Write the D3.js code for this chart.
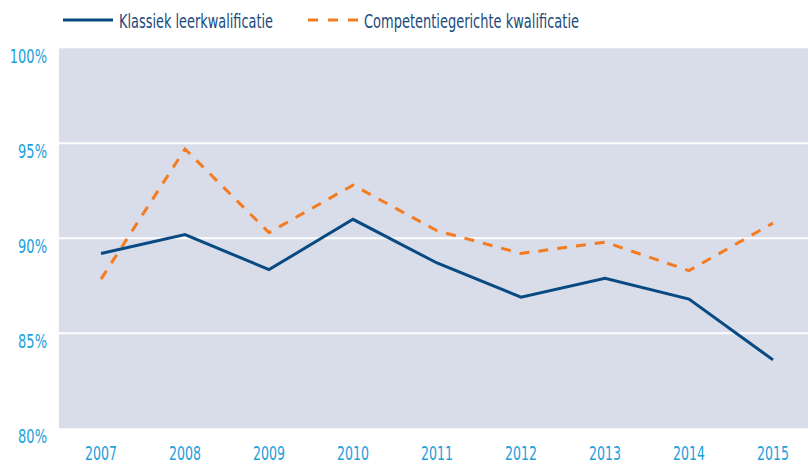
<!DOCTYPE html>
<head>
    <meta charset="utf-8">
    <script src="https://cdn.jsdelivr.net/npm/d3@7"></script>
    <style>
        body { margin: 0; background: white; }
        text { font-family: "DejaVu Sans", sans-serif; }
    </style>
</head>

<body>
<script>

    var years = ["2007", "2008", "2009", "2010", "2011", "2012", "2013", "2014", "2015"];
    var klassiek = [89.2, 90.2, 88.35, 91.0, 88.7, 86.9, 87.9, 86.8, 83.6];
    var competentie = [87.85, 94.7, 90.3, 92.8, 90.4, 89.2, 89.8, 88.3, 90.8];
    var yTicks = [80, 85, 90, 95, 100];
    var seriesNames = ["Klassiek leerkwalificatie", "Competentiegerichte kwalificatie"];

    var width = 808, height = 465;
    var svg = d3.select("body").append("svg")
        .attr("width", width)
        .attr("height", height);

    var x = d3.scaleBand().domain(years).range([59, 815]);
    var y = d3.scaleLinear().domain([80, 100]).range([428.3, 48.3]);

    // squeeze text to look like the condensed font of the original
    function condense(sel, factor) {
        sel.each(function() {
            var w = this.getComputedTextLength();
            d3.select(this)
                .attr("textLength", w * factor)
                .attr("lengthAdjust", "spacingAndGlyphs");
        });
    }

    // plot background
    svg.append("rect")
        .attr("x", 59)
        .attr("y", y(100))
        .attr("width", width - 59)
        .attr("height", y(80) - y(100))
        .style("fill", "#d8dde9");

    // gridlines
    svg.selectAll("line.grid").data(yTicks.filter(function(d) { return d > 80 && d < 100; }))
        .enter().append("line")
        .attr("class", "grid")
        .attr("x1", 59)
        .attr("x2", width)
        .attr("y1", function(d) { return y(d); })
        .attr("y2", function(d) { return y(d); })
        .style("stroke", "white")
        .style("stroke-width", 2);

    // y labels
    svg.selectAll("text.ylab").data(yTicks)
        .enter().append("text")
        .attr("class", "ylab")
        .attr("x", 47)
        .attr("y", function(d) { return y(d) + 15; })
        .style("text-anchor", "end")
        .style("font-size", "20px")
        .style("fill", "#1ba1dc")
        .text(function(d) { return d + "%"; })
        .call(condense, 0.65);

    // x labels
    svg.selectAll("text.xlab").data(years)
        .enter().append("text")
        .attr("class", "xlab")
        .attr("x", function(d) { return x(d) + x.bandwidth() / 2; })
        .attr("y", 460)
        .style("text-anchor", "middle")
        .style("font-size", "19px")
        .style("fill", "#1ba1dc")
        .text(function(d) { return d; })
        .call(condense, 0.66);

    var line = d3.line()
        .x(function(d, i) { return x(years[i]) + x.bandwidth() / 2; })
        .y(function(d) { return y(d); });

    svg.append("path")
        .datum(competentie)
        .attr("d", line)
        .style("fill", "none")
        .style("stroke", "#f47b20")
        .style("stroke-width", 3)
        .style("stroke-dasharray", "10,9");

    svg.append("path")
        .datum(klassiek)
        .attr("d", line)
        .style("fill", "none")
        .style("stroke", "#0a4a82")
        .style("stroke-width", 3);

    // legend
    var legend = [
        {name: seriesNames[0], color: "#0a4a82", dash: null, x: 63, w: 154},
        {name: seriesNames[1], color: "#f47b20", dash: "10,10", x: 308, w: 215}
    ];
    var lg = svg.selectAll("g.legend").data(legend)
        .enter().append("g")
        .attr("class", "legend")
        .attr("transform", function(d) { return "translate(" + d.x + ",20)"; });
    lg.append("line")
        .attr("x1", 0)
        .attr("x2", 50)
        .style("stroke", function(d) { return d.color; })
        .style("stroke-width", 3)
        .style("stroke-dasharray", function(d) { return d.dash; });
    lg.append("text")
        .attr("x", 56)
        .attr("y", 7.5)
        .style("font-size", "19px")
        .style("fill", "#1a4a7c")
        .attr("textLength", function(d) { return d.w; })
        .attr("lengthAdjust", "spacingAndGlyphs")
        .text(function(d) { return d.name; });

</script>
</body>
